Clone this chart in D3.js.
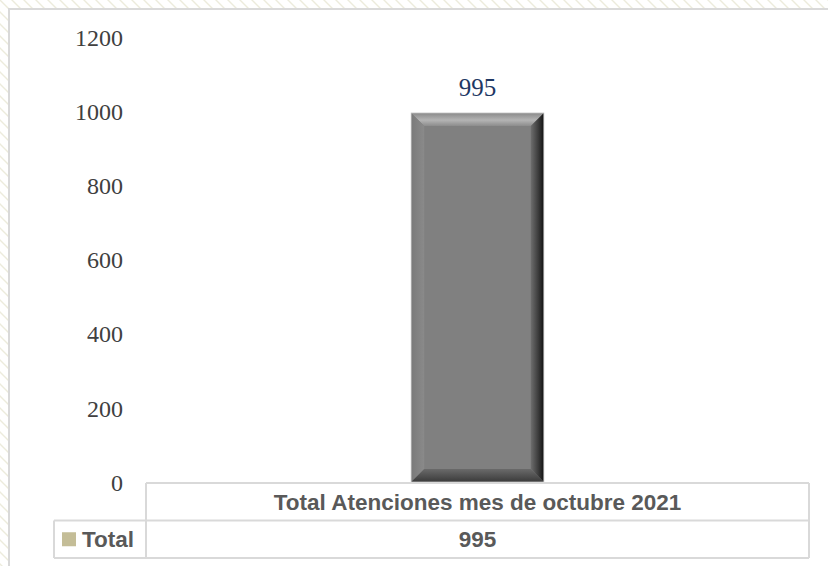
<!DOCTYPE html>
<html>
<head>
<meta charset="utf-8">
<script src="https://cdn.jsdelivr.net/npm/d3@7/dist/d3.min.js"></script>
<style>
  html, body { margin: 0; padding: 0; background: #fff; }
  svg { display: block; }
</style>
</head>
<body>
<svg id="chart" width="828" height="566"></svg>
<script>
// ---- data ----
const categories = ["Total Atenciones mes de octubre 2021"];
const seriesName = "Total";
const values = [995];
const yTicks = [0, 200, 400, 600, 800, 1000, 1200];

// ---- layout ----
const W = 828, H = 566;
const plot = { left: 146, right: 809, top: 37, bottom: 482 };
const rowH = 37.5;

const svg = d3.select("#chart");
const defs = svg.append("defs");

// background hatch outside chart frame
const pat = defs.append("pattern")
  .attr("id", "hatch").attr("patternUnits", "userSpaceOnUse")
  .attr("width", 12).attr("height", 12);
pat.append("path").attr("d", "M0,0 L12,12 M-6,6 L6,18 M6,-6 L18,6")
  .attr("stroke", "#ecebdc").attr("stroke-width", 1.4);
svg.append("rect").attr("width", W).attr("height", H).attr("fill", "url(#hatch)");

// chart frame
svg.append("rect").attr("x", 9).attr("y", 9).attr("width", W + 20).attr("height", H + 20)
  .attr("fill", "#fff").attr("stroke", "#d9d9d9").attr("stroke-width", 2);

// scales
const x = d3.scaleBand().domain(categories).range([plot.left, plot.right])
  .paddingInner(0).paddingOuter(2);
const y = d3.scaleLinear().domain([0, 1200]).range([plot.bottom, plot.top]);

// y axis labels (no line, no ticks)
const yAxis = d3.axisLeft(y).tickValues(yTicks).tickSize(0).tickPadding(0).tickFormat(d3.format("d"));
const gy = svg.append("g").attr("transform", "translate(123,0)").call(yAxis);
gy.select(".domain").remove();
gy.selectAll("text")
  .attr("font-family", "'Liberation Serif', 'DejaVu Serif', serif")
  .attr("font-size", 24).attr("fill", "#404040").attr("dy", "0.34em");

// gradients for bevel
function lg(id, x1, y1, x2, y2, stops) {
  const g = defs.append("linearGradient").attr("id", id)
    .attr("x1", x1).attr("y1", y1).attr("x2", x2).attr("y2", y2);
  stops.forEach(s => g.append("stop").attr("offset", s[0]).attr("stop-color", s[1]));
}
lg("gTop", 0, 0, 0, 1, [[0, "#8a8a8a"], [0.55, "#b4b4b4"], [1, "#8c8c8c"]]);
lg("gRight", 0, 0, 1, 0, [[0, "#6e6e6e"], [0.6, "#3a3a3a"], [1, "#111"]]);
lg("gLeft", 0, 0, 1, 0, [[0, "#7a7a7a"], [1, "#8a8a8a"]]);
lg("gBottom", 0, 0, 0, 1, [[0, "#6a6a6a"], [1, "#3a3a3a"]]);

// bars with bevel
const bev = 13;
const bars = svg.append("g").selectAll("g").data(values).join("g");
bars.each(function(v, i) {
  const g = d3.select(this);
  const x0 = x(categories[i]), x1 = x0 + x.bandwidth();
  const y0 = y(v), y1 = y(0);
  g.append("rect").attr("x", x0).attr("y", y0).attr("width", x1 - x0).attr("height", y1 - y0)
    .attr("fill", "#808080");
  const poly = (pts, fill) => g.append("polygon")
    .attr("points", pts.map(p => p.join(",")).join(" ")).attr("fill", fill);
  poly([[x0, y0], [x1, y0], [x1 - bev, y0 + bev], [x0 + bev, y0 + bev]], "url(#gTop)");
  poly([[x0, y0], [x0 + bev, y0 + bev], [x0 + bev, y1 - bev], [x0, y1]], "url(#gLeft)");
  poly([[x1, y0], [x1, y1], [x1 - bev, y1 - bev], [x1 - bev, y0 + bev]], "url(#gRight)");
  poly([[x0, y1], [x0 + bev, y1 - bev], [x1 - bev, y1 - bev], [x1, y1]], "url(#gBottom)");
  g.append("rect").attr("x", x0).attr("y", y0).attr("width", x1 - x0).attr("height", y1 - y0)
    .attr("fill", "none").attr("stroke", "#bdbdbd").attr("stroke-width", 0.8);
  // data label
  g.append("text").attr("x", (x0 + x1) / 2).attr("y", y0 - 17)
    .attr("text-anchor", "middle")
    .attr("font-family", "'Liberation Serif', 'DejaVu Serif', serif")
    .attr("font-size", 25).attr("fill", "#1f3864").text(v);
});

// data table
const tb = svg.append("g");
const tTop = y(0) + 1, tMid = tTop + rowH, tBot = tMid + rowH;
const legLeft = 54;
const lineC = "#d9d9d9";
const line = (x1, y1, x2, y2) => tb.append("line")
  .attr("x1", x1).attr("y1", y1).attr("x2", x2).attr("y2", y2)
  .attr("stroke", lineC).attr("stroke-width", 2);
line(plot.left, tTop, plot.right, tTop);
line(legLeft, tMid, plot.right, tMid);
line(legLeft, tBot, plot.right, tBot);
line(plot.left, tTop, plot.left, tBot);
line(plot.right, tTop, plot.right, tBot);
line(legLeft, tMid, legLeft, tBot);

categories.forEach((c, i) => {
  const cx = x(c) + x.bandwidth() / 2;
  tb.append("text").attr("x", cx).attr("y", (tTop + tMid) / 2).attr("dy", "0.35em")
    .attr("text-anchor", "middle").attr("font-family", "'Liberation Sans', Arial, sans-serif")
    .attr("font-weight", "bold").attr("font-size", 22.5).attr("fill", "#595959").text(c);
  tb.append("text").attr("x", cx).attr("y", (tMid + tBot) / 2).attr("dy", "0.35em")
    .attr("text-anchor", "middle").attr("font-family", "'Liberation Sans', Arial, sans-serif")
    .attr("font-weight", "bold").attr("font-size", 22.5).attr("fill", "#595959").text(values[i]);
});
// legend key in table
tb.append("rect").attr("x", 62).attr("y", (tMid + tBot) / 2 - 7).attr("width", 14).attr("height", 14)
  .attr("fill", "#c4bd97");
tb.append("text").attr("x", 82).attr("y", (tMid + tBot) / 2).attr("dy", "0.35em")
  .attr("font-family", "'Liberation Sans', Arial, sans-serif")
  .attr("font-weight", "bold").attr("font-size", 22.5).attr("fill", "#595959").text(seriesName);
</script>
</body>
</html>
